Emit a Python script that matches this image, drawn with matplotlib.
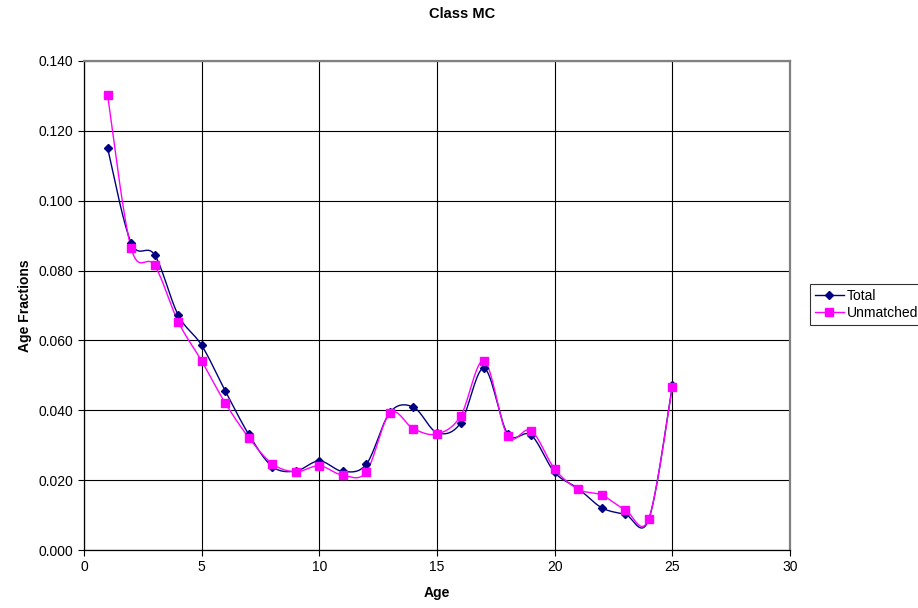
import numpy as np
import matplotlib.pyplot as plt

plt.rcParams['font.family'] = ['Liberation Sans', 'DejaVu Sans']

# Age fractions by age for Class MC
ages = np.arange(1, 26)
total = [0.1151, 0.0880, 0.0845, 0.0673, 0.0586, 0.0456, 0.0331, 0.0239, 0.0226,
         0.0255, 0.0225, 0.0246, 0.0394, 0.0409, 0.0336, 0.0363, 0.0520, 0.0333,
         0.0329, 0.0222, 0.0176, 0.0121, 0.0102, 0.0088, 0.0471]
unmatched = [0.1303, 0.0865, 0.0815, 0.0654, 0.0541, 0.0421, 0.0322, 0.0247, 0.0224,
             0.0241, 0.0214, 0.0224, 0.0392, 0.0347, 0.0332, 0.0383, 0.0542, 0.0327,
             0.0342, 0.0232, 0.0174, 0.0157, 0.0115, 0.0090, 0.0468]


def smooth(x, y, n=20):
    # Catmull-Rom style Bezier through every point, like a spreadsheet smoothed line
    x = np.asarray(x, float)
    y = np.asarray(y, float)
    px = np.concatenate([[x[0]], x, [x[-1]]])
    py = np.concatenate([[y[0]], y, [y[-1]]])
    xs, ys = [], []
    t = np.linspace(0, 1, n)
    for i in range(1, len(px) - 2):
        p0 = np.array([px[i], py[i]])
        p3 = np.array([px[i + 1], py[i + 1]])
        c1 = p0 + (p3 - np.array([px[i - 1], py[i - 1]])) / 6
        c2 = p3 - (np.array([px[i + 2], py[i + 2]]) - p0) / 6
        pts = ((1 - t)[:, None] ** 3 * p0 + 3 * ((1 - t) ** 2 * t)[:, None] * c1
               + 3 * ((1 - t) * t ** 2)[:, None] * c2 + (t ** 3)[:, None] * p3)
        xs.extend(pts[:, 0])
        ys.extend(pts[:, 1])
    return xs, ys


fig = plt.figure(figsize=(9.18, 6.08), dpi=100)
ax = fig.add_axes([84 / 918, 58 / 608, 706 / 918, 489 / 608])

navy = '#000080'
magenta = '#FF00FF'

sx, sy = smooth(ages, total)
ax.plot(sx, sy, color=navy, lw=1.0, zorder=3)
ax.plot(ages, total, ls='none', marker='D', ms=4.5, color=navy, zorder=4)

sx, sy = smooth(ages, unmatched)
ax.plot(sx, sy, color=magenta, lw=1.0, zorder=3)
ax.plot(ages, unmatched, ls='none', marker='s', ms=6, color=magenta, zorder=4)

# legend proxies
ax.plot([], [], color=navy, marker='D', ms=4.5, lw=1.0, label='Total')
ax.plot([], [], color=magenta, marker='s', ms=6, lw=1.0, label='Unmatched')

ax.set_xlim(0, 30)
ax.set_ylim(0, 0.14)
ax.set_xticks(np.arange(0, 31, 5))
ax.set_yticks(np.arange(0, 0.1401, 0.02))
ax.set_yticklabels([f'{v:.3f}' for v in np.arange(0, 0.1401, 0.02)])
ax.tick_params(labelsize=10, length=4.5, width=0.8, color='black', direction='out', pad=3)
ax.grid(True, color='black', lw=0.8)
ax.set_axisbelow(True)

for side in ['left', 'bottom']:
    ax.spines[side].set_color('black')
    ax.spines[side].set_linewidth(0.9)
for side in ['top', 'right']:
    ax.spines[side].set_color('#808080')
    ax.spines[side].set_linewidth(1.6)

fig.text(462 / 918, 1 - 14 / 608, 'Class MC', fontsize=10.5, fontweight='bold',
         ha='center', va='center')
ax.set_xlabel('Age', fontsize=10, fontweight='bold', labelpad=8)
ax.set_ylabel('Age Fractions', fontsize=10, fontweight='bold', labelpad=5)

leg = fig.legend(loc='upper left', bbox_to_anchor=(810 / 918, 1 - 284 / 608),
                 fontsize=10, frameon=True, fancybox=False, edgecolor='black',
                 borderpad=0.35, handlelength=2.1, handletextpad=0.2,
                 labelspacing=0.25, borderaxespad=0)
leg.get_frame().set_linewidth(0.8)

fig.savefig('out.png', dpi=100)
